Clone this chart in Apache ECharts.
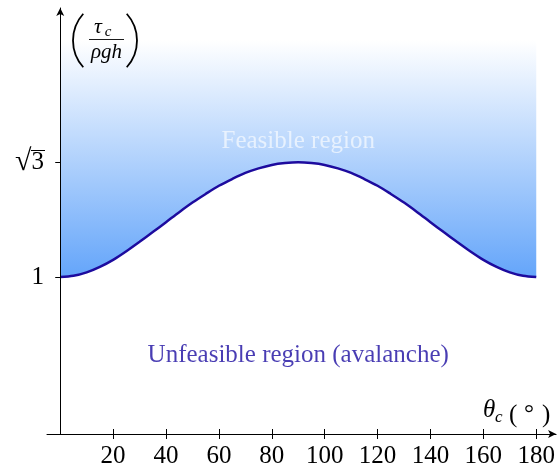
<!DOCTYPE html>
<html><head><meta charset="utf-8">
<script src="https://cdn.jsdelivr.net/npm/echarts@6/dist/echarts.min.js"></script>
<style>html,body{margin:0;padding:0;background:#fff}#c{width:558px;height:473px}</style>
</head><body><div id="c"></div>
<script>
// angles (degrees)
const angles = [0,5,10,15,20,25,30,35,40,45,50,55,60,65,70,75,80,85,90,95,100,105,110,115,120,125,130,135,140,145,150,155,160,165,170,175,180];
// normalised critical stress
const stress = [1.000,1.008,1.030,1.065,1.110,1.165,1.225,1.287,1.350,1.414,1.475,1.530,1.582,1.625,1.664,1.693,1.715,1.727,1.732,1.727,1.715,1.693,1.664,1.625,1.582,1.530,1.475,1.414,1.350,1.287,1.225,1.165,1.110,1.065,1.030,1.008,1.000];
const xTicks = [20,40,60,80,100,120,140,160,180];
const yTicks = [1, 1.732];
const yTickLabels = ['1', '{r|√}{n|3}'];
const regionLabels = [
  {name: 'Feasible region', x: 90, y: 1.862},
  {name: 'Unfeasible region (avalanche)', x: 90, y: 0.50}
];

const serif = 'Liberation Serif';
const chart = echarts.init(document.getElementById('c'), null, {renderer: 'canvas'});
const curveData = angles.map((a, i) => [a, stress[i]]);

chart.setOption({
  animation: false,
  backgroundColor: '#fff',
  grid: {left: 47, right: 0, top: 8, bottom: 39},
  xAxis: [{
    type: 'value', min: -5, max: 187.5, position: 'bottom', z: 10,
    splitLine: {show: false},
    axisLine: {show: true, onZero: false, lineStyle: {color: '#000', width: 1}, symbol: ['none', 'arrow'], symbolSize: [6, 8]},
    axisTick: {show: true, customValues: xTicks, length: 5, inside: false, lineStyle: {color: '#000'}},
    axisLabel: {show: true, customValues: xTicks, margin: 10, color: '#000', fontFamily: serif, fontSize: 25}
  }, {
    type: 'value', min: -5, max: 187.5, position: 'bottom', z: 10,
    splitLine: {show: false},
    axisLine: {show: false},
    axisTick: {show: true, customValues: xTicks, length: 5, inside: true, lineStyle: {color: '#000'}},
    axisLabel: {show: false}
  }],
  yAxis: {
    type: 'value', min: 0, max: 2.715, z: 10,
    splitLine: {show: false},
    axisLine: {show: true, onZero: true, lineStyle: {color: '#000', width: 1}, symbol: ['none', 'arrow'], symbolSize: [6, 8]},
    axisTick: {show: true, customValues: yTicks, length: 5, lineStyle: {color: '#000'}},
    axisLabel: {show: true, customValues: yTicks, margin: 3, color: '#000', fontFamily: serif, fontSize: 25,
      rich: {r: {fontFamily: serif, fontSize: 30, color: '#000'}, n: {fontFamily: serif, fontSize: 25, color: '#000'}},
      formatter: v => yTickLabels[yTicks.findIndex(t => Math.abs(t - v) < 1e-6)] || ''}
  },
  series: [{
    type: 'line', data: curveData, smooth: 0.3, symbol: 'none', z: 3,
    lineStyle: {color: '#1d0b9e', width: 2.5},
    areaStyle: {origin: 'end', opacity: 1, color: new echarts.graphic.LinearGradient(0, 0, 0, 1, [
      {offset: 0, color: '#ffffff'},
      {offset: 0.12, color: '#ffffff'},
      {offset: 1, color: '#64a5fa'}
    ])},
    silent: true
  }, {
    type: 'scatter', symbolSize: 0, silent: true, z: 5,
    data: [[regionLabels[0].x, regionLabels[0].y]],
    label: {show: true, position: 'inside', formatter: regionLabels[0].name, color: 'rgba(255,255,255,0.8)', fontFamily: serif, fontSize: 25}
  }, {
    type: 'scatter', symbolSize: 0, silent: true, z: 5,
    data: [[regionLabels[1].x, regionLabels[1].y]],
    label: {show: true, position: 'inside', formatter: regionLabels[1].name, color: '#1c0ca0', fontFamily: serif, fontSize: 25}
  }],
  graphic: [
    // overline of the square root
    {type: 'line', shape: {x1: 31, y1: 150.5, x2: 45, y2: 150.5}, style: {stroke: '#000', lineWidth: 1}, z: 20},
    // y-axis title: ( tau_c / rho g h )
    {type: 'arc', shape: {cx: 113, cy: 40.5, r: 40, startAngle: Math.PI * (138 / 180), endAngle: Math.PI * (222 / 180), clockwise: true}, style: {stroke: '#000', lineWidth: 1.8, fill: null}, z: 20},
    {type: 'arc', shape: {cx: 97, cy: 40.5, r: 40, startAngle: -Math.PI * (42 / 180), endAngle: Math.PI * (42 / 180), clockwise: true}, style: {stroke: '#000', lineWidth: 1.8, fill: null}, z: 20},
    {type: 'text', x: 98, y: 38, style: {text: 'τ', font: 'italic 22px "Liberation Serif"', fill: '#000', align: 'center', verticalAlign: 'bottom'}, z: 20},
    {type: 'text', x: 108, y: 40, style: {text: 'c', font: 'italic 15px "Liberation Serif"', fill: '#000', align: 'center', verticalAlign: 'bottom'}, z: 20},
    {type: 'line', shape: {x1: 89, y1: 39.5, x2: 124, y2: 39.5}, style: {stroke: '#000', lineWidth: 0.9}, z: 20},
    {type: 'text', x: 106.5, y: 42, style: {text: 'ρgh', font: 'italic 21px "Liberation Serif"', fill: '#000', align: 'center', verticalAlign: 'top'}, z: 20},
    // x-axis title: theta_c ( ° )
    {type: 'text', x: 483, y: 423, style: {text: 'θ', font: 'italic 25px "Liberation Serif"', fill: '#000', align: 'left', verticalAlign: 'bottom'}, z: 20},
    {type: 'text', x: 495, y: 426, style: {text: 'c', font: 'italic 17px "Liberation Serif"', fill: '#000', align: 'left', verticalAlign: 'bottom'}, z: 20},
    {type: 'text', x: 509, y: 428, style: {text: '(', font: '25px "Liberation Serif"', fill: '#000', align: 'left', verticalAlign: 'bottom'}, z: 20},
    {type: 'text', x: 529, y: 427, style: {text: '°', font: '25px "Liberation Serif"', fill: '#000', align: 'center', verticalAlign: 'bottom'}, z: 20},
    {type: 'text', x: 542, y: 428, style: {text: ')', font: '25px "Liberation Serif"', fill: '#000', align: 'left', verticalAlign: 'bottom'}, z: 20}
  ]
});
</script></body></html>
